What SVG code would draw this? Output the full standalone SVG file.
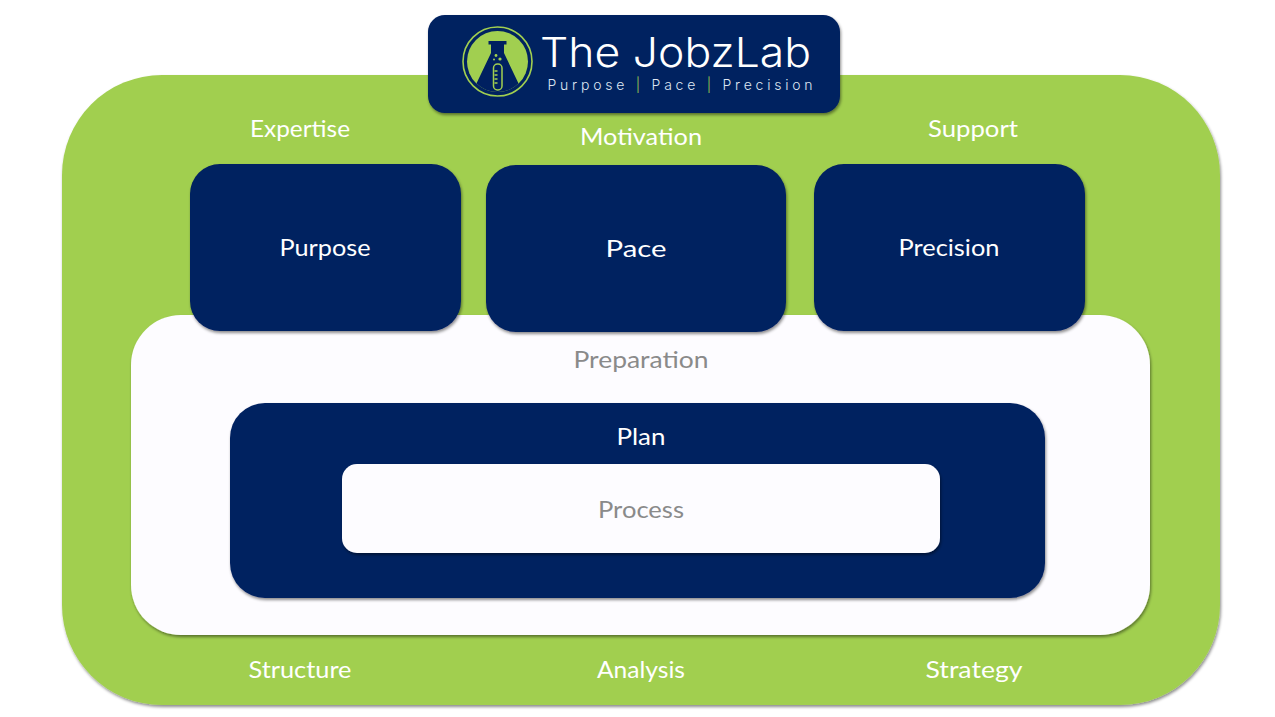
<svg xmlns="http://www.w3.org/2000/svg" width="1275" height="717" viewBox="0 0 1275 717">
<style>
text{font-family:"Lato","Liberation Sans",sans-serif;text-anchor:middle}
.w{fill:#fff}.g{fill:#8a8a8a}
.l{font-size:24px}
.navy{fill:#002060}
.sh{filter:url(#s)}
.logo{font-family:"Inter","Lato",sans-serif;font-weight:300}
</style>
<defs>
<filter id="s" x="-5%" y="-5%" width="110%" height="112%"><feDropShadow dx="1" dy="2" stdDeviation="1.6" flood-color="#000" flood-opacity=".45"/></filter>
<clipPath id="disc"><circle cx="497.5" cy="61.5" r="30.5"/></clipPath>
</defs>
<rect width="1275" height="717" fill="#fff"/>
<g id="outer"><rect class="sh" x="62" y="75" width="1158" height="630" rx="100" fill="#a1cf50"/>
<text class="w l" x="300" y="137" textLength="100" lengthAdjust="spacingAndGlyphs">Expertise</text>
<text class="w l" x="641" y="145" textLength="122" lengthAdjust="spacingAndGlyphs">Motivation</text>
<text class="w l" x="973" y="137" textLength="90" lengthAdjust="spacingAndGlyphs">Support</text>
<text class="w l" x="300" y="678" textLength="103" lengthAdjust="spacingAndGlyphs">Structure</text>
<text class="w l" x="641" y="678" textLength="88" lengthAdjust="spacingAndGlyphs">Analysis</text>
<text class="w l" x="974" y="678" textLength="97" lengthAdjust="spacingAndGlyphs">Strategy</text></g>
<g id="preparation"><rect class="sh" x="131" y="315" width="1019" height="320" rx="50" fill="#fdfcff"/>
<text class="g l" x="641" y="368" textLength="135" lengthAdjust="spacingAndGlyphs">Preparation</text></g>
<g id="purpose"><rect class="navy sh" x="190" y="164" width="271" height="167" rx="30"/>
<text class="w l" x="325" y="256" textLength="91" lengthAdjust="spacingAndGlyphs">Purpose</text></g>
<g id="pace"><rect class="navy sh" x="486" y="165" width="300" height="167" rx="30"/>
<text class="w l" x="636" y="257" textLength="61" lengthAdjust="spacingAndGlyphs">Pace</text></g>
<g id="precision"><rect class="navy sh" x="814" y="164" width="271" height="167" rx="30"/>
<text class="w l" x="949" y="256" textLength="101" lengthAdjust="spacingAndGlyphs">Precision</text></g>
<g id="plan"><rect class="navy sh" x="230" y="403" width="815" height="195" rx="35"/>
<text class="w l" x="641" y="445" textLength="49" lengthAdjust="spacingAndGlyphs">Plan</text></g>
<g id="process"><rect class="sh" x="342" y="464" width="598" height="89" rx="15" fill="#fdfcff"/>
<text class="g l" x="641" y="518" textLength="86" lengthAdjust="spacingAndGlyphs">Process</text></g>
<g id="logo"><rect class="navy sh" x="428" y="15" width="412" height="98" rx="17"/>
<circle cx="497.5" cy="61.5" r="34.5" fill="none" stroke="#a1cf50" stroke-width="1.6"/>
<circle cx="497.5" cy="61.5" r="30.5" fill="#a1cf50"/>
<path clip-path="url(#disc)" d="M491 43 V53 L470 97 H525 L504 53 V43Z" fill="#002060"/>
<rect x="488.5" y="41" width="18" height="3.5" fill="#002060"/>
<rect x="493.5" y="64" width="8.5" height="26" rx="4" fill="#002060" stroke="#a1cf50" stroke-width="1.5"/>
<path d="M494.5 71h3M494.5 75h3M494.5 79h3M494.5 83h3" stroke="#a1cf50" stroke-width="1.3"/>
<circle cx="496" cy="55.5" r="1.4" fill="#a1cf50"/><circle cx="500" cy="59" r="1.6" fill="#a1cf50"/><circle cx="494" cy="59.5" r="1" fill="#a1cf50"/>
<text class="w logo" x="675.5" y="66.5" font-size="41" textLength="271" lengthAdjust="spacingAndGlyphs">The JobzLab</text>
<text class="logo" x="680" y="89.8" font-size="14" textLength="265" fill="#dfe6f2">Purpose <tspan fill="#a1cf50">|</tspan> Pace <tspan fill="#a1cf50">|</tspan> Precision</text></g>
<g id="connectors"></g>
</svg>
